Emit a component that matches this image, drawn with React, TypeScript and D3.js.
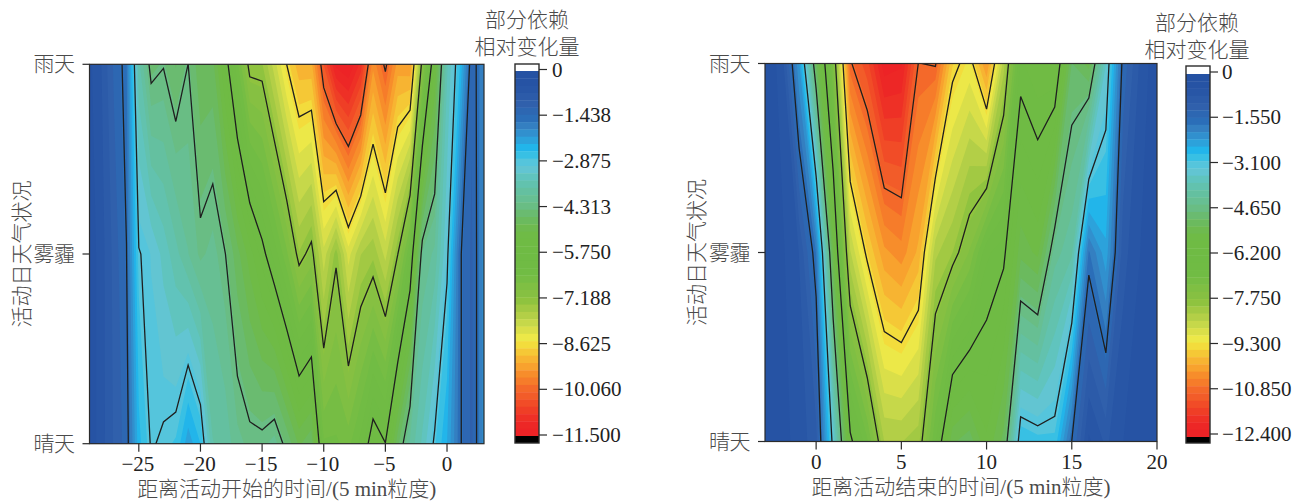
import React from "react";
import * as d3 from "d3";

const weatherLabels = ["雨天", "雾霾", "晴天"];

const startOffsets = [-29,-28,-27,-26,-25,-24,-23,-22,-21,-20,-19,-18,-17,-16,-15,-14,-13,-12,-11,-10,-9,-8,-7,-6,-5,-4,-3,-2,-1,0,1,2,3];
const startRain = [-0.4,-0.7,-1.2,-1.57,-3.61,-4.46,-4.335,-4.62,-4.31,-4.79,-4.76,-5.55,-6.39,-7.33,-7.34,-7.94,-8.63,-9.12,-9.127,-10.357,-11.34,-11.52,-10.96,-9.5,-10.15,-9.33,-9.4,-7.0,-5.31,-3.5,-2.6,-1.2,-1.85];
const startHaze = [-0.3,-0.6,-1.0,-1.43,-2.85,-3.0,-3.3,-3.6,-3.9,-4.2,-4.05,-4.3,-4.75,-5.17,-5.62,-6.08,-6.62,-7.336,-7.053,-7.965,-7.25,-8.15,-7.6,-7.42,-7.9,-7.2,-6.2,-4.1,-3.85,-2.98,-1.5,-1.1,-1.95];
const startSunny = [-0.3,-0.6,-0.95,-1.26,-2.45,-2.91,-2.82,-2.73,-2.15,-2.53,-3.67,-3.75,-4.07,-4.2,-4.21,-4.05,-4.43,-4.87,-4.65,-6.4,-6.4,-6.52,-6.125,-5.5,-5.74,-4.67,-3.85,-3.4,-2.8,-2.3,-1.5,-1.1,-1.95];
const startLineLevels = [-1.4375,-2.875,-4.3125,-5.75,-7.1875,-8.625,-10.0625];
const startBarTicks = [0,-1.4375,-2.875,-4.3125,-5.75,-7.1875,-8.625,-10.0625,-11.5];
const startBarLabels = ["0","−1.438","−2.875","−4.313","−5.750","−7.188","−8.625","−10.060","−11.500"];
const startXTicks = [-25,-20,-15,-10,-5,0];

const endOffsets = [-3,-2,-1,0,1,2,3,4,5,6,7,8,9,10,11,12,13,14,15,16,17,18,19,20];
const endRain = [-0.3,-0.6,-2.2,-5.1,-7.26,-10.8,-11.32,-12.3,-12.2,-10.84,-10.89,-9.45,-9.1,-10.19,-8.3,-6.39,-6.66,-6.76,-4.95,-5.31,-3.48,-1.42,-0.7,-0.3];
const endHaze = [-0.3,-0.45,-0.75,-1.75,-5.4,-8.4,-9.42,-10.1,-10.3,-9.86,-8.25,-7.94,-7.41,-6.5,-6.3,-5.3,-5.52,-4.33,-4.03,-1.7,-2.4,-0.85,-0.5,-0.3];
const endSunny = [-0.3,-0.4,-0.6,-0.9,-3.27,-6.09,-6.9,-8.19,-8.2,-8.03,-6.71,-5.25,-5.07,-5.66,-5.13,-2.77,-2.88,-2.91,-1.54,-0.45,-0.8,-0.5,-0.35,-0.3];
const endLineLevels = [-1.55,-3.1,-4.65,-6.2,-7.75,-9.3,-10.85];
const endBarTicks = [0,-1.55,-3.1,-4.65,-6.2,-7.75,-9.3,-10.85,-12.4];
const endBarLabels = ["0","−1.550","−3.100","−4.650","−6.200","−7.750","−9.300","−10.850","−12.400"];
const endXTicks = [0,5,10,15,20];

const palette = ["#2552a3","#2653a4","#2856a6","#2c5ba9","#3060ac","#2d67b2","#2b6eb8","#347fc1","#3190ce","#2ca2db","#22b5ea","#38c0e4","#55c5dc","#62c5d2","#60c4be","#62c2ae","#64c0a0","#67bf93","#69bd84","#6abb70","#6bba5e","#6eba4f","#6fbb46","#6fbb44","#6fbb44","#6fbb44","#70bb44","#71bc44","#76bd44","#7fbf43","#86c042","#8fc33f","#a2c943","#b3cf47","#c6d84a","#dadf49","#ece848","#f3dc3c","#f5c836","#f7b432","#f8a22e","#f78d2b","#f67c2a","#f4692a","#f25c29","#f14c27","#ef3e26","#ee3026","#ed2726","#ed2326"];

const FONT = "'Liberation Serif','Noto Sans CJK SC',serif";
const INK = "#2b2b2b";
const TEXT = "#222";
const CJK_TEXT = "#4a4a4a";

type PanelProps = {
  id: string;
  offsets: number[];
  rain: number[];
  haze: number[];
  sunny: number[];
  lineLevels: number[];
  barTicks: number[];
  barLabels: string[];
  xTicks: number[];
  xTitle: string;
  plot: { left: number; right: number; top: number; bottom: number };
  bar: { left: number; right: number; top: number; bottom: number; bandTop: number; bandBottom: number; tick0: number; tickEnd: number; labelX: number };
  titleX: number;
  titleY: number;
  yTitleX: number;
};

function Panel(p: PanelProps) {
  const { plot, bar, offsets } = p;
  const n = offsets.length;
  const kMin = offsets[0];
  const x = d3.scaleLinear().domain([kMin, offsets[n - 1]]).range([plot.left, plot.right]);
  const y = d3.scalePoint<number>().domain([0, 1, 2]).range([plot.top, plot.bottom]);
  const rowY = d3.scaleLinear().domain([0, 2]).range([plot.top, plot.bottom]);
  const grid = [...p.rain, ...p.haze, ...p.sunny];

  const path = d3.geoPath(
    d3.geoTransform({
      point(px: number, py: number) {
        (this as any).stream.point(x(kMin + px - 0.5), rowY(py - 0.5));
      },
    })
  );

  const minV = d3.min(p.barTicks) as number;
  const step = -minV / palette.length;
  const bandThresholds = palette.map((_, i) => -(i + 1) * step);
  const gen = d3.contours().size([n, 3]).smooth(true);
  const fills = bandThresholds.map((t, i) => ({ t, color: palette[i], geo: gen.contour(grid, t) })).reverse();
  const lines = p.lineLevels.map((t) => gen.contour(grid, t));

  const barScale = d3.scaleLinear().domain([0, minV]).range([bar.tick0, bar.tickEnd]);
  const bandScale = d3.scaleBand<number>().domain(d3.range(palette.length)).range([bar.bandTop, bar.bandBottom]);

  return (
    <g fontFamily={FONT} fill={TEXT}>
      <defs>
        <clipPath id={p.id}>
          <rect x={plot.left} y={plot.top} width={plot.right - plot.left} height={plot.bottom - plot.top} />
        </clipPath>
      </defs>
      <g clipPath={`url(#${p.id})`}>
        <rect x={plot.left} y={plot.top} width={plot.right - plot.left} height={plot.bottom - plot.top} fill={palette[palette.length - 1]} />
        {fills.map((f, i) => (
          <path key={i} d={path(f.geo as any) || ""} fill={f.color} />
        ))}
        {lines.map((g, i) => (
          <path key={i} d={path(g as any) || ""} fill="none" stroke="#1f1f1f" strokeWidth={1.3} />
        ))}
      </g>
      <rect x={plot.left} y={plot.top} width={plot.right - plot.left} height={plot.bottom - plot.top} fill="none" stroke={INK} strokeWidth={1.2} />

      {weatherLabels.map((w, i) => (
        <g key={w}>
          <line x1={plot.left - 7} x2={plot.left} y1={y(i)} y2={y(i)} stroke={INK} strokeWidth={1.2} />
          <text x={plot.left - 15} y={(y(i) as number) + 7} textAnchor="end" fontSize={21} fontWeight={300} fill={CJK_TEXT} letterSpacing={-0.5}>{w}</text>
        </g>
      ))}
      {p.xTicks.map((t) => (
        <g key={t}>
          <line x1={x(t)} x2={x(t)} y1={plot.bottom} y2={plot.bottom + 8} stroke={INK} strokeWidth={1.2} />
          <text x={x(t) - (t < 0 ? 1 : 0)} y={plot.bottom + 27} textAnchor="middle" fontSize={21}>{t < 0 ? `−${-t}` : t}</text>
        </g>
      ))}
      <text x={(plot.left + plot.right) / 2} y={plot.bottom + 52} textAnchor="middle" fontSize={21} fontWeight={300} fill={CJK_TEXT}>{p.xTitle}</text>
      <text transform={`translate(${p.yTitleX},${(plot.top + plot.bottom) / 2}) rotate(-90)`} textAnchor="middle" fontSize={21} fontWeight={300} fill={CJK_TEXT}>活动日天气状况</text>

      <text x={p.titleX} y={p.titleY} textAnchor="middle" fontSize={21} fontWeight={300} fill={CJK_TEXT}>部分依赖</text>
      <text x={p.titleX} y={p.titleY + 27} textAnchor="middle" fontSize={21} fontWeight={300} fill={CJK_TEXT}>相对变化量</text>

      <rect x={bar.left} y={bar.top} width={bar.right - bar.left} height={bar.bottom - bar.top} fill="#fff" />
      {palette.map((c, i) => (
        <rect key={c + i} x={bar.left} y={bandScale(i)} width={bar.right - bar.left} height={bandScale.bandwidth() + 0.4} fill={c} />
      ))}
      <rect x={bar.left} y={bar.bandBottom} width={bar.right - bar.left} height={bar.bottom - bar.bandBottom} fill="#000" />
      <rect x={bar.left} y={bar.top} width={bar.right - bar.left} height={bar.bottom - bar.top} fill="none" stroke={INK} strokeWidth={1.4} />
      {p.barTicks.map((t, i) => (
        <g key={t}>
          <line x1={bar.right} x2={bar.right + 8} y1={barScale(t)} y2={barScale(t)} stroke={INK} strokeWidth={1.2} />
          <text x={bar.labelX} y={barScale(t) + 7} fontSize={21}>{p.barLabels[i]}</text>
        </g>
      ))}
    </g>
  );
}

export default function App() {
  return (
    <svg width={1305} height={503} viewBox="0 0 1305 503" style={{ position: "absolute", left: 0, top: 0, display: "block", background: "#fff" }}>
      <Panel
        id="clipA"
        offsets={startOffsets}
        rain={startRain}
        haze={startHaze}
        sunny={startSunny}
        lineLevels={startLineLevels}
        barTicks={startBarTicks}
        barLabels={startBarLabels}
        xTicks={startXTicks}
        xTitle="距离活动开始的时间/(5 min粒度)"
        plot={{ left: 89.5, right: 484, top: 64.3, bottom: 443.7 }}
        bar={{ left: 515, right: 539, top: 64, bottom: 443, bandTop: 71, bandBottom: 436, tick0: 69.5, tickEnd: 435, labelX: 552 }}
        titleX={527}
        titleY={27}
        yTitleX={29}
      />
      <Panel
        id="clipB"
        offsets={endOffsets}
        rain={endRain}
        haze={endHaze}
        sunny={endSunny}
        lineLevels={endLineLevels}
        barTicks={endBarTicks}
        barLabels={endBarLabels}
        xTicks={endXTicks}
        xTitle="距离活动结束的时间/(5 min粒度)"
        plot={{ left: 765, right: 1157, top: 63.5, bottom: 441.5 }}
        bar={{ left: 1186, right: 1210, top: 66, bottom: 443, bandTop: 74, bandBottom: 437, tick0: 72, tickEnd: 434, labelX: 1222 }}
        titleX={1197}
        titleY={30}
        yTitleX={704}
      />
    </svg>
  );
}
